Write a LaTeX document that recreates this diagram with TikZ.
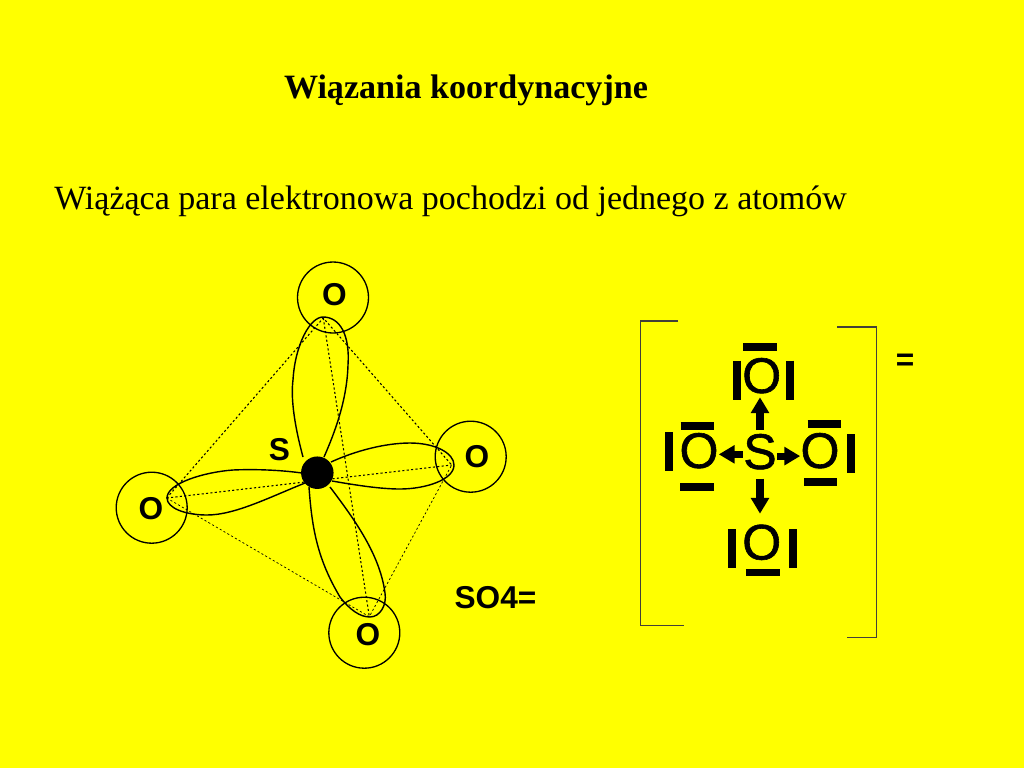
\documentclass[tikz,border=0pt]{standalone}
\usepackage{fontspec}
\setmainfont{Liberation Serif}
\setsansfont{Liberation Sans}
\newfontfamily\heavyfont[RawFeature={embolden=1.2}]{Liberation Sans}
\usetikzlibrary{arrows.meta}
\definecolor{slidebg}{RGB}{255,255,0}
\tikzset{
	atom/.style={draw, circle, minimum size=40.4pt, inner sep=0pt, line width=0.75pt},
	atomlabel/.style={font=\sffamily\bfseries\fontsize{18}{20}\selectfont, inner sep=0pt},
	biglabel/.style={font=\heavyfont\fontsize{28.5}{30}\selectfont, inner sep=0pt},
	lobe/.style={line width=0.8pt},
	thickdots/.style={dash pattern=on 1.2pt off 1.3pt, line width=0.6pt},
	thindots/.style={dash pattern=on 1.2pt off 1.3pt, line width=0.4pt},
	bar/.style={line width=4.5pt},
	bracket/.style={line width=0.7pt, draw=black!85!yellow},
	bond/.style={line width=4pt, -{Triangle[width=10pt, length=9pt]}}
}
\begin{document}
\begin{tikzpicture}[x=0.02cm, y=-0.02cm]
\fill[slidebg] (0, 0) rectangle (1024, 768);
\useasboundingbox (0, 0) rectangle (1024, 768);

\draw (466, 90) node[font=\bfseries\fontsize{19.4}{22}\selectfont] (title){Wiązania koordynacyjne};
\draw (450.5, 201) node[font=\fontsize{19.35}{22}\selectfont] (subtitle){Wiążąca para elektronowa pochodzi od jednego z atomów};

\foreach \x/\y/\n in {333/297.5/circtop, 470.7/456.7/circright, 151.7/507.7/circleft, 364.3/632.7/circbottom}
	\node[atom] (\n) at (\x, \y) {};

\draw (334.5, 295) node[atomlabel] (otop){O};
\draw (477, 457) node[atomlabel] (oright){O};
\draw (151, 509) node[atomlabel] (oleft){O};
\draw (368, 635) node[atomlabel] (obottom){O};
\draw (279.5, 449.5) node[atomlabel] (slabel){S};
\draw (495.5, 598) node[atomlabel] (ionlabel){SO4=};
\draw (905, 362) node[atomlabel] (equals){=};

\coordinate (tiptop) at (323.3, 318);
\coordinate (tipright) at (451.7, 465);
\coordinate (tipbottom) at (369.3, 616.7);
\coordinate (tipleft) at (166.7, 498);

\draw[thickdots] (tipleft) -- (tiptop) -- (tipright);
\draw[thindots] (tipleft) -- (tipbottom) -- (tipright);
\draw[thickdots] (tipleft) -- (tipright);
\draw[thickdots] (tiptop) -- (tipbottom);

\draw[lobe] (303, 457) .. controls (293, 420) and (291, 395) .. (293, 380) .. controls (295, 345) and (310, 317) .. (323, 317) .. controls (340, 317) and (350, 335) .. (348, 365) .. controls (347, 400) and (335, 432) .. (324, 457);
\draw[lobe] (331, 462) .. controls (355, 451) and (385, 443) .. (410, 443) .. controls (435, 443) and (454, 453) .. (454, 465) .. controls (454, 480) and (425, 489) .. (400, 489) .. controls (380, 489) and (355, 485) .. (332, 481);
\draw[lobe] (302, 473) .. controls (280, 470) and (255, 469) .. (233, 470) .. controls (205, 472) and (167, 483) .. (167, 498) .. controls (167, 508) and (185, 515) .. (207, 515) .. controls (235, 515) and (270, 497) .. (305, 483);
\draw[lobe] (309, 487) .. controls (312, 530) and (318, 560) .. (340, 597) .. controls (350, 610) and (360, 617) .. (370, 617) .. controls (380, 617) and (387, 605) .. (385, 593) .. controls (380, 555) and (355, 520) .. (330, 487);

\node[circle, fill=black, minimum size=18.5pt, inner sep=0pt] (sulfur) at (317.3, 472.7) {};

\draw[bracket] (678, 321) -- (640.5, 321) -- (640.5, 625.7) -- (684, 625.7);
\draw[bracket] (837, 327) -- (876.5, 327) -- (876.5, 637.5) -- (847, 637.5);

\draw (760, 451.7) node[biglabel] (scentre){S};
\draw (761.7, 375.7) node[biglabel] (otopbig){O};
\draw (699, 450.7) node[biglabel] (oleftbig){O};
\draw (820, 450.7) node[biglabel] (orightbig){O};
\draw (761.7, 542.3) node[biglabel] (obottombig){O};

\foreach \a/\b/\c/\d in {743.3/346.7/777/346.7, 736.7/360.7/736.7/400, 790/360.7/790/400,
	680.7/426/714.3/426, 668.7/432/668.7/471.3, 680.3/487.3/713.7/487.3,
	807.7/424/841/424, 851/434/851/473.3, 804/482.3/837.3/482.3,
	732/529/732/568.3, 793.3/529/793.3/568.3, 746/572.5/779.7/572.5}
	\draw[bar] (\a, \b) -- (\c, \d);

\draw[bond, shorten <=2pt, shorten >=2pt] (scentre.north) -- (scentre.north |- otopbig.south);
\draw[bond, shorten <=5pt, shorten >=6pt] (scentre.south) -- (scentre.south |- obottombig.north);
\draw[bond] ([yshift=-1.5pt]scentre.west) -- ([yshift=-1.5pt]scentre.west -| oleftbig.east);
\draw[bond] ([yshift=-2.5pt]scentre.east) -- ([yshift=-2.5pt]scentre.east -| orightbig.west);
\end{tikzpicture}
\end{document}
